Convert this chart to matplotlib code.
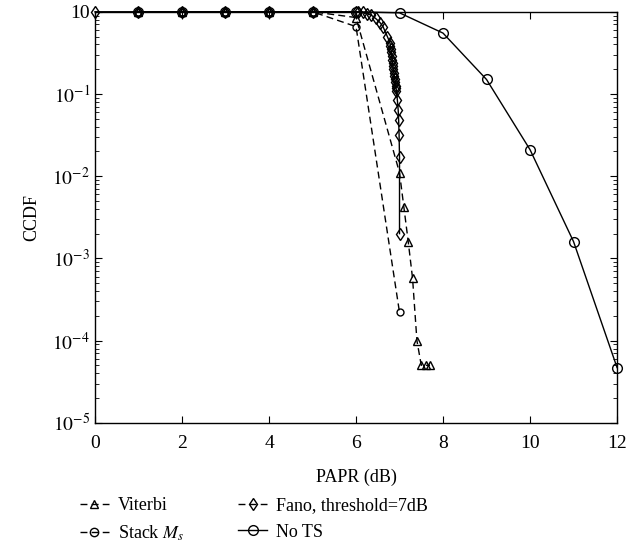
import matplotlib
matplotlib.use("Agg")
import matplotlib.pyplot as plt
from matplotlib.lines import Line2D

plt.rcParams['font.family'] = ['Liberation Serif', 'DejaVu Serif']
plt.rcParams['mathtext.fontset'] = 'stix'

# --- data ---
viterbi_x = [1, 2, 3, 4, 5, 6, 7.0, 7.1, 7.2, 7.3, 7.4, 7.5, 7.6, 7.7]
viterbi_y = [1, 1, 1, 1, 1, 0.85, 0.011, 0.0042, 0.0016, 5.7e-4, 1.0e-4, 5e-5, 5e-5, 5e-5]

stack_x = [1, 2, 3, 4, 5, 6, 7]
stack_y = [1, 1, 1, 1, 1, 0.66, 2.2e-4]

fano_x = [0, 1, 2, 3, 4, 5, 6, 6.05, 6.15, 6.25, 6.35, 6.45, 6.55, 6.62, 6.72,
          6.78, 6.79, 6.80, 6.81, 6.82, 6.83, 6.84, 6.85, 6.86, 6.87, 6.88, 6.89,
          6.90, 6.91, 6.92, 6.93, 6.95, 6.97, 6.98, 6.99, 7.0, 7.0]
fano_y = [1, 1, 1, 1, 1, 1, 1, 1.0, 0.98, 0.95, 0.91, 0.83, 0.74, 0.66, 0.5,
          0.42, 0.38, 0.35, 0.32, 0.29, 0.26, 0.24, 0.22, 0.20, 0.18, 0.166, 0.151,
          0.138, 0.126, 0.117, 0.11, 0.085, 0.063, 0.048, 0.032, 0.017, 0.002]

nots_x = [1, 2, 3, 4, 5, 6, 7, 8, 9, 10, 11, 12]
nots_y = [1, 1, 1, 1, 1, 1, 0.97, 0.55, 0.15, 0.021, 0.0016, 4.7e-5]

x_ticks = [0, 2, 4, 6, 8, 10, 12]
y_ticks = [1, 1e-1, 1e-2, 1e-3, 1e-4, 1e-5]
y_tick_labels = ["10", "$10^{-1}$", "$10^{-2}$", "$10^{-3}$", "$10^{-4}$", "$10^{-5}$"]

fig = plt.figure(figsize=(6.29, 5.6), dpi=100)
ax = fig.add_axes([0.151, 0.245, 0.830, 0.734])

dash = (0, (5, 3))
common = dict(color='black', linewidth=1.0, markerfacecolor='none',
              markeredgewidth=1.0, clip_on=False)

ax.plot(viterbi_x, viterbi_y, linestyle=dash, marker='^', markersize=6, **common)
ax.plot(stack_x, stack_y, linestyle=dash, marker='o', markersize=5, **common)
ax.plot(fano_x, fano_y, linestyle='-', marker='d', markersize=6, **common)
ax.plot(nots_x, nots_y, linestyle='-', marker='o', markersize=7, **common)

ax.set_yscale('log')
ax.set_xlim(0, 12)
ax.set_ylim(1e-5, 1)
ax.set_xticks(x_ticks)
ax.set_yticks(y_ticks)
ax.set_yticklabels(y_tick_labels)
ax.tick_params(which='both', direction='in', top=True, right=True, labelsize=14)
ax.tick_params(which='major', length=5)
ax.tick_params(which='minor', length=3)
ax.tick_params(axis='x', pad=9)
for s in ax.spines.values():
    s.set_linewidth(1.0)

ax.set_xlabel("PAPR (dB)", fontsize=13, labelpad=12)
ax.set_ylabel("CCDF", fontsize=13, labelpad=9)

# legend below the axes, MATLAB-like dashed handles
handles = [
    Line2D([], [], color='black', linestyle=dash, marker='^', markersize=6,
           markerfacecolor='none', linewidth=1.0),
    Line2D([], [], color='black', linestyle=dash, marker='o', markersize=6,
           markerfacecolor='none', linewidth=1.0),
    Line2D([], [], color='black', linestyle=dash, marker='d', markersize=6,
           markerfacecolor='none', linewidth=1.0),
    Line2D([], [], color='black', linestyle='-', marker='o', markersize=7,
           markerfacecolor='none', linewidth=1.0),
]
labels = ["Viterbi", "Stack $M_s$", "Fano, threshold=7dB", "No TS"]
fig.legend(handles, labels, ncol=2, frameon=False, fontsize=13,
           loc='lower left', bbox_to_anchor=(0.127, 0.03),
           borderpad=0, borderaxespad=0,
           handlelength=1.6, handletextpad=0.5, columnspacing=3.0,
           labelspacing=0.55)

fig.savefig("out.png", dpi=100)
